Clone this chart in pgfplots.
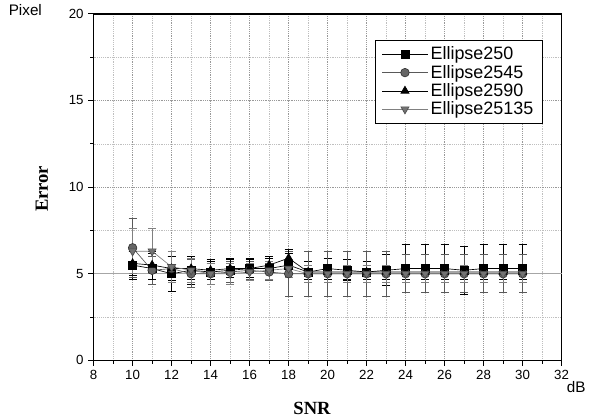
\documentclass[border=0pt]{standalone}
\usepackage{pgfplots}
\pgfplotsset{compat=1.18}
\usepackage{fontspec}
\setmainfont{Liberation Sans}
\newfontfamily\serifb{Liberation Serif}
\begin{document}
\begin{tikzpicture}[x=1pt,y=1pt]
\begin{axis}[
  scale only axis, width=352.5pt, height=261pt,
  xmin=8, xmax=32, ymin=0, ymax=20,
  xtick={8,10,...,32}, ytick={0,5,10,15,20},
  minor x tick num=1, minor y tick num=1,
  grid=both,
  major grid style={densely dotted, gray!80, line width=0.5pt},
  minor grid style={densely dotted, gray!50, line width=0.4pt},
  axis line style={line width=1.1pt},
  tick style={black, line width=0.6pt},
  major tick length=4pt, minor tick length=2.5pt,
  tick align=outside,
  xtick pos=bottom, ytick pos=left,
  /pgf/number format/assume math mode=true,
  ticklabel style={font=\fontsize{10}{11}\selectfont},
  clip=false,
  legend style={at={(0.96,0.925)}, anchor=north east, draw=black, line width=0.5pt,
    font=\fontsize{13.5}{14}\selectfont, row sep=-1.5pt, inner xsep=5pt, inner ysep=3pt},
  legend cell align=left,
  legend image code/.code={\draw[mark repeat=2,mark phase=2] plot coordinates {(0cm,0cm) (0.6cm,0cm) (1.2cm,0cm)};},
  error bars/error bar style={line width=0.5pt},
  error bars/error mark options={rotate=90, mark size=3pt, line width=0.6pt},
]
\addplot[gray!70, line width=0.6pt, forget plot] coordinates {(8,5) (32,5)};

\addplot[black, line width=0.5pt, mark=square*, mark size=3pt, mark options={fill=black},
  error bars/.cd, y dir=both, y explicit] coordinates {
(10,5.5) +- (0,0.8)
(11,5.3) +- (0,0.9)
(12,5.0) +- (0,1.0)
(13,5.2) +- (0,0.8)
(14,5.1) +- (0,0.7)
(15,5.2) +- (0,0.7)
(16,5.3) +- (0,0.6)
(17,5.3) +- (0,0.6)
(18,5.5) +- (0,0.7)
(19,5.1) +- (0,0.6)
(20,5.3) +- (0,0.6)
(21,5.2) +- (0,0.6)
(22,5.1) +- (0,0.6)
(23,5.2) +- (0,0.9)
(24,5.3) +- (0,1.4)
(25,5.3) +- (0,1.4)
(26,5.3) +- (0,1.4)
(27,5.2) +- (0,1.4)
(28,5.3) +- (0,1.4)
(29,5.3) +- (0,1.4)
(30,5.3) +- (0,1.4)
};
\addlegendentry{Ellipse250}

\addplot[black!65, line width=0.5pt, mark=*, mark size=3.2pt, mark options={fill=black!60, draw=black!80},
  error bars/.cd, y dir=both, y explicit] coordinates {
(10,6.5) +- (0,1.7)
(11,5.2) +- (0,0.8)
(12,5.3) +- (0,0.7)
(13,5.0) +- (0,0.8)
(14,5.0) +- (0,0.6)
(15,5.1) +- (0,0.6)
(16,5.2) +- (0,0.5)
(17,5.1) +- (0,0.5)
(18,5.0) +- (0,1.3)
(19,5.0) +- (0,1.3)
(20,5.0) +- (0,1.3)
(21,5.0) +- (0,1.3)
(22,5.0) +- (0,1.3)
(23,5.0) +- (0,1.3)
(24,5.0) +- (0,1.1)
(25,5.0) +- (0,1.1)
(26,5.0) +- (0,1.1)
(27,5.0) +- (0,1.1)
(28,5.0) +- (0,1.1)
(29,5.0) +- (0,1.1)
(30,5.0) +- (0,1.1)
};
\addlegendentry{Ellipse2545}

\addplot[black, line width=0.5pt, mark=triangle*, mark size=3.5pt, mark options={fill=black},
  error bars/.cd, y dir=both, y explicit] coordinates {
(10,5.6) +- (0,0.7)
(11,5.5) +- (0,0.8)
(12,5.3) +- (0,0.7)
(13,5.3) +- (0,0.6)
(14,5.2) +- (0,0.5)
(15,5.3) +- (0,0.5)
(16,5.3) +- (0,0.5)
(17,5.5) +- (0,0.5)
(18,5.9) +- (0,0.5)
(19,5.1) +- (0,0.4)
(20,5.1) +- (0,0.4)
(21,5.1) +- (0,0.4)
(22,5.1) +- (0,0.4)
(23,5.1) +- (0,0.4)
(24,5.1) +- (0,0.4)
(25,5.1) +- (0,0.4)
(26,5.1) +- (0,0.4)
(27,5.1) +- (0,0.4)
(28,5.1) +- (0,0.4)
(29,5.1) +- (0,0.4)
(30,5.1) +- (0,0.4)
};
\addlegendentry{Ellipse2590}

\addplot[black!50, line width=0.5pt, mark=triangle*, mark size=3.5pt, mark options={fill=black!55, draw=black!70, rotate=180},
  error bars/.cd, y dir=both, y explicit] coordinates {
(10,6.3) +- (0,1.3)
(11,6.3) +- (0,1.3)
(12,5.4) +- (0,0.9)
(13,5.2) +- (0,0.7)
(14,5.0) +- (0,0.6)
(15,5.0) +- (0,0.6)
(16,5.1) +- (0,0.5)
(17,5.2) +- (0,0.5)
(18,5.3) +- (0,0.5)
(19,5.0) +- (0,0.5)
(20,5.0) +- (0,0.5)
(21,5.0) +- (0,0.5)
(22,5.0) +- (0,0.5)
(23,5.0) +- (0,0.5)
(24,5.0) +- (0,0.5)
(25,5.0) +- (0,0.5)
(26,5.0) +- (0,0.5)
(27,5.0) +- (0,0.5)
(28,5.0) +- (0,0.5)
(29,5.0) +- (0,0.5)
(30,5.0) +- (0,0.5)
};
\addlegendentry{Ellipse25135}

\path (axis cs:3.2,-3.39) rectangle (axis cs:33.33,20.8);
\node[font=\fontsize{11.5}{12}\selectfont] at (axis cs:4.5,20.2) {Pixel};
\node[font=\fontsize{11.5}{12}\selectfont] at (axis cs:32.75,-1.52) {dB};
\node[font=\serifb\bfseries\fontsize{14}{16}\selectfont] at (axis cs:19.2,-2.75) {SNR};
\node[font=\serifb\bfseries\fontsize{14}{16}\selectfont, rotate=90] at (axis cs:5.35,9.9) {Error};
\end{axis}
\end{tikzpicture}
\end{document}
